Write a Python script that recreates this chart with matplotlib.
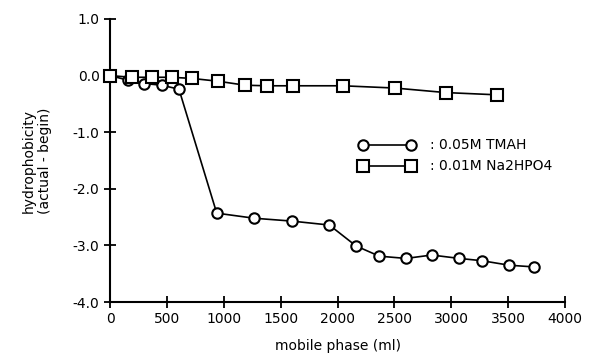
import matplotlib
matplotlib.use('Agg')
import matplotlib.pyplot as plt

# TMAH (circles)
tmah_x = [0, 155, 301, 454, 606, 938, 1268, 1596, 1928, 2163, 2367, 2602, 2828, 3071, 3268, 3510, 3727]
tmah_y = [0.0, -0.08, -0.14, -0.17, -0.24, -2.43, -2.52, -2.57, -2.64, -3.01, -3.19, -3.23, -3.17, -3.23, -3.27, -3.35, -3.38]

# Na2HPO4 (squares)
na_x = [0, 190, 367, 543, 719, 952, 1187, 1378, 1612, 2046, 2505, 2951, 3405]
na_y = [0.0, -0.03, -0.03, -0.03, -0.05, -0.10, -0.17, -0.18, -0.18, -0.18, -0.22, -0.30, -0.34]

xticks = [0, 500, 1000, 1500, 2000, 2500, 3000, 3500, 4000]
yticks = [1.0, 0.0, -1.0, -2.0, -3.0, -4.0]

fig = plt.figure(figsize=(5.89, 3.61), dpi=100)
ax = fig.add_axes([0.1868, 0.1634, 0.7725, 0.784])

ax.plot(tmah_x, tmah_y, '-o', color='black', lw=1.2, ms=7.5, mfc='white', mec='black', mew=1.5,
        label=': 0.05M TMAH', clip_on=False, zorder=3)
ax.plot(na_x, na_y, '-s', color='black', lw=1.2, ms=8.5, mfc='white', mec='black', mew=1.5,
        label=': 0.01M Na2HPO4', clip_on=False, zorder=3)

ax.set_xlim(0, 4000)
ax.set_ylim(-4.0, 1.0)
ax.set_xticks(xticks)
ax.set_yticks(yticks)
ax.set_yticklabels(['%.1f' % v for v in yticks])
ax.spines['top'].set_visible(False)
ax.spines['right'].set_visible(False)
ax.spines['left'].set_linewidth(1.5)
ax.spines['bottom'].set_linewidth(1.5)
ax.tick_params(direction='inout', length=8, width=1.3, labelsize=10)

ax.set_xlabel('mobile phase (ml)', fontsize=10, labelpad=9)
ax.set_ylabel('hydrophobicity\n(actual - begin)', fontsize=10, labelpad=15)

ax.legend(loc='center left', bbox_to_anchor=(0.52, 0.516), frameon=False, numpoints=2,
          handlelength=4.0, handletextpad=1.1, labelspacing=0.5, fontsize=10)

fig.savefig('out.png', dpi=100)
